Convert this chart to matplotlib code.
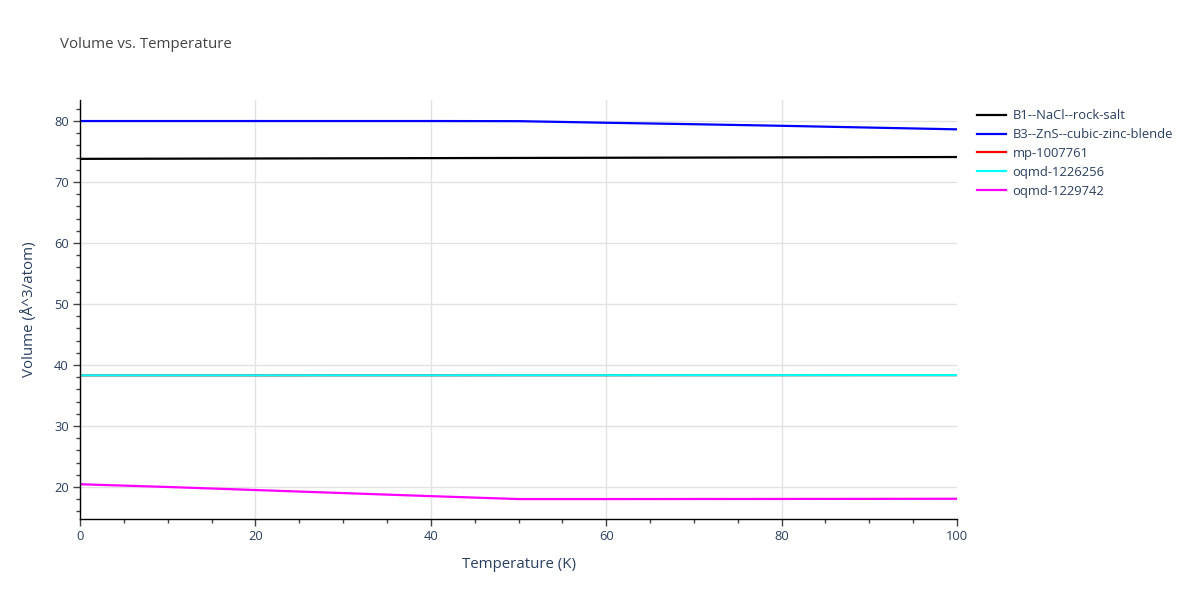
import numpy as np
import matplotlib.pyplot as plt
from matplotlib.ticker import MultipleLocator, FixedLocator

plt.rcParams['font.family'] = ['Open Sans', 'DejaVu Sans']

# temperatures (K)
temps = [0, 10, 20, 30, 40, 50, 60, 70, 80, 90, 100]
x_ticks = [0, 20, 40, 60, 80, 100]

# volumes (Å^3/atom)
b1_nacl = [73.80, 73.83, 73.86, 73.89, 73.92, 73.95, 73.98, 74.01, 74.04, 74.07, 74.10]
b3_zns = [80.00, 80.00, 80.00, 80.00, 80.00, 79.98, 79.72, 79.48, 79.22, 78.93, 78.64]
mp_1007761 = [38.30, 38.30, 38.30, 38.31, 38.31, 38.32, 38.32, 38.33, 38.33, 38.34, 38.34]
oqmd_1226256 = [38.30, 38.30, 38.30, 38.31, 38.31, 38.32, 38.32, 38.33, 38.33, 38.34, 38.34]
oqmd_1229742 = [20.45, 20.00, 19.50, 19.00, 18.50, 18.02, 18.02, 18.03, 18.04, 18.05, 18.07]

series = [
    ('B1--NaCl--rock-salt', b1_nacl, 'black'),
    ('B3--ZnS--cubic-zinc-blende', b3_zns, 'blue'),
    ('mp-1007761', mp_1007761, 'red'),
    ('oqmd-1226256', oqmd_1226256, 'cyan'),
    ('oqmd-1229742', oqmd_1229742, 'magenta'),
]

fig = plt.figure(figsize=(12, 6), dpi=100)
ax = fig.add_axes([80 / 1200, 1 - 519 / 600, 877 / 1200, 419 / 600])

for name, vals, color in series:
    ax.plot(temps, vals, color=color, lw=1.6, label=name)

ax.set_xlim(0, 100)
ax.set_ylim(14.75, 83.45)
ax.xaxis.set_major_locator(FixedLocator(x_ticks))
ax.xaxis.set_minor_locator(MultipleLocator(5))
ax.yaxis.set_major_locator(MultipleLocator(10))
ax.yaxis.set_minor_locator(MultipleLocator(2))

tick_col = '#2a3f5f'
ax.tick_params(which='major', direction='out', length=5, width=1, color='#444444',
               labelcolor=tick_col, labelsize=9.3, pad=3)
ax.tick_params(which='minor', direction='out', length=3, width=1, color='#444444')

ax.grid(True, which='major', color='#e2e2e2', lw=1)
ax.set_axisbelow(True)
# hide the grid line that sits on the right edge
ax.get_xgridlines()[-1].set_visible(False)
for side in ['top', 'right']:
    ax.spines[side].set_visible(False)
for side in ['left', 'bottom']:
    ax.spines[side].set_color('black')
    ax.spines[side].set_linewidth(1)

ax.set_xlabel('Temperature (K)', color=tick_col, fontsize=10.8, labelpad=10)
ax.set_ylabel('Volume (Å^3/atom)', color=tick_col, fontsize=10.8, labelpad=12)

fig.text(60 / 1200, 1 - 45 / 600, 'Volume vs. Temperature', color='#444444',
         fontsize=10.8, va='center', ha='left')

leg = fig.legend(loc='upper left', bbox_to_anchor=(972 / 1200, 1 - 104 / 600),
                 frameon=False, fontsize=9.4, handlelength=2.2, handletextpad=0.5,
                 labelspacing=0.45, borderaxespad=0)
for t in leg.get_texts():
    t.set_color(tick_col)

fig.savefig('out.png', dpi=100)
